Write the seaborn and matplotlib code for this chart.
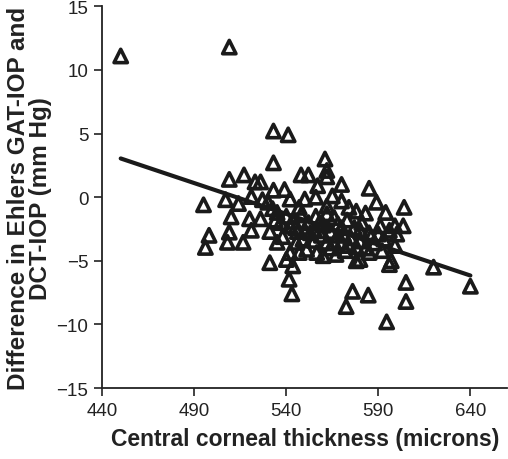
import numpy as np
import pandas as pd
import matplotlib
matplotlib.use('Agg')
import matplotlib.pyplot as plt
import seaborn as sns

# Central corneal thickness (microns) vs GAT-IOP minus DCT-IOP (mm Hg)
cct = [
    450, 509, 533, 541, 533, 561, 562, 562, 509, 517,
    523, 526, 548, 552, 557, 570, 585, 533, 539, 495,
    507, 514, 521, 527, 530, 542, 550, 556, 565, 570,
    547, 562, 566, 583, 594, 604, 510, 520, 526, 498,
    496, 509, 508, 516.5, 521, 531, 535, 542, 538, 542,
    547, 545.5, 540, 531, 543.5, 541.5, 543, 549, 555.5, 562,
    556.5, 551, 570, 576, 584.5, 572.5, 591, 599, 603.5, 590,
    600, 571, 580, 599, 585, 580, 597, 596, 620, 640,
    605, 605, 594.5, 532.5, 535, 540, 544, 548, 552, 556,
    560, 564, 568, 573, 577, 581, 575, 578, 566, 559,
    553, 546, 537, 534, 588, 593, 572, 567, 585, 592,
    560, 574, 578, 589, 596, 578, 545, 550, 555, 562,
    568, 574, 580, 586, 558, 570, 564, 583,
]
diff = [
    11.1, 11.8, 5.2, 4.9, 2.7, 3.0, 2.1, 1.6, 1.4, 1.75,
    1.2, 1.2, 1.75, 1.75, 0.9, 1.0, 0.7, 0.55, 0.6, -0.6,
    -0.2, -0.5, 0.05, -0.2, -0.4, -0.15, -0.15, 0.0, 0.1, -0.3,
    -0.8, -0.7, -1.6, -1.25, -1.2, -0.8, -1.55, -1.7, -1.7, -3.0,
    -3.95, -2.75, -3.55, -3.55, -2.6, -2.7, -3.55, -2.25, -3.1, -4.35,
    -4.35, -3.55, -4.9, -5.15, -5.4, -6.45, -7.6, -3.3, -2.65, -3.55,
    -4.35, -4.1, -3.55, -7.4, -7.7, -8.6, -2.25, -2.25, -2.25, -2.9,
    -2.9, -2.9, -3.45, -3.8, -4.35, -4.9, -5.0, -5.3, -5.5, -7.0,
    -6.7, -8.2, -9.8, -0.9, -1.2, -1.5, -1.9, -1.4, -2.0, -1.5,
    -2.2, -2.7, -2.1, -1.8, -2.4, -2.0, -3.2, -3.9, -3.6, -3.0,
    -2.8, -2.7, -2.0, -1.8, -3.6, -3.3, -4.2, -4.5, -2.8, -4.2,
    -4.6, -0.8, -1.1, -0.4, -2.6, -5.0, -2.4, -2.6, -3.4, -1.3,
    -3.0, -3.8, -2.6, -3.1, -2.0, -2.4, -4.0, -4.0,
]

x_ticks = [440, 490, 540, 590, 640]
y_ticks = [15, 10, 5, 0, -5, -10, -15]

df = pd.DataFrame({'cct': cct, 'diff': diff})

sns.set_style('white')
plt.rcParams['font.family'] = ['Liberation Sans', 'DejaVu Sans']

fig = plt.figure(figsize=(5.08, 4.6), dpi=100)
ax = fig.add_axes([0.2014, 0.1543, 0.797, 0.8297])

sns.regplot(data=df, x='cct', y='diff', ax=ax, ci=None, truncate=True,
            marker='^',
            scatter_kws=dict(s=92, facecolors='none', edgecolors='#1a1a1a',
                             linewidths=2.6, alpha=1),
            line_kws=dict(color='#1a1a1a', linewidth=3))

ax.set_xlim(440, 660)
ax.set_ylim(-15, 15)
ax.set_xticks(x_ticks)
ax.set_yticks(y_ticks)
ax.set_yticklabels(['15', '10', '5', '0', '\u22125', '\u221210', '\u221215'])

for side in ['top', 'right']:
    ax.spines[side].set_visible(False)
for side in ['left', 'bottom']:
    ax.spines[side].set_color('#222222')
    ax.spines[side].set_linewidth(1.3)

ax.tick_params(axis='both', direction='out', length=6, width=1.2,
               color='#222222', labelsize=13.5, labelcolor='#222222',
               bottom=True, left=True, pad=4)

ax.set_xlabel('Central corneal thickness (microns)', fontsize=16.5,
              fontweight='bold', color='#222222', labelpad=6)
ax.set_ylabel('Difference in Ehlers GAT-IOP and\nDCT-IOP (mm Hg)', fontsize=17.5,
              fontweight='bold', color='#222222', labelpad=3, linespacing=0.95)

plt.savefig('out.png', dpi=100)
